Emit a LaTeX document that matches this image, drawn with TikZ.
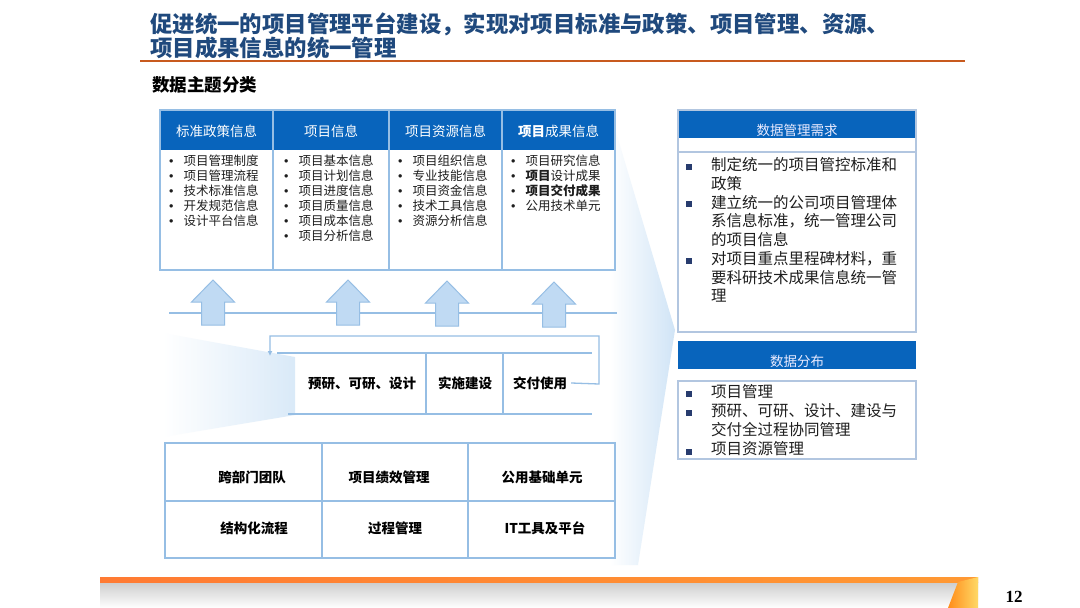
\documentclass[tikz,border=0pt]{standalone}
\usepackage{fontspec}
\setmainfont{Noto Sans CJK SC}
\newfontfamily\pnfont{Liberation Serif}
\newfontfamily\bulfont{Liberation Sans}
\usetikzlibrary{arrows.meta}
\definecolor{titleblue}{RGB}{31,73,125}
\definecolor{hdrblue}{RGB}{8,100,188}
\definecolor{linebl}{RGB}{150,190,228}
\definecolor{arrfill}{RGB}{192,218,243}
\definecolor{orline}{RGB}{200,90,30}
\definecolor{boxedge}{RGB}{178,198,224}
\definecolor{sqblue}{RGB}{40,60,110}
\definecolor{txt}{RGB}{30,30,30}
\definecolor{fanblue}{RGB}{208,228,246}
\tikzset{
  titletext/.style={anchor=west, inner sep=0pt, text=titleblue, font=\fontsize{22.4}{26}\selectfont\bfseries},
  hdrtext/.style={inner sep=0pt, text=white, font=\fontsize{13.5}{16}\selectfont},
  listtext/.style={anchor=north west, inner sep=0pt, align=left, text=txt, font=\fontsize{12.5}{15}\selectfont},
  celltext/.style={inner sep=0pt, text=black, font=\fontsize{13.5}{16}\selectfont\bfseries},
  tableline/.style={draw=linebl, line width=1.3pt},
  panelhdr/.style={inner sep=0pt, text=white!92!blue, font=\fontsize{13.5}{16}\selectfont},
  paneltext/.style={anchor=north west, inner sep=0pt, align=left, text=txt, font=\fontsize{15.5}{18.7}\selectfont},
  sqbullet/.style={fill=sqblue, minimum size=6.5pt, inner sep=0pt},
  uparrowpic/.pic={\draw[draw=linebl, fill=arrfill, line width=1pt] (-11.5,45) -- (-11.5,22) -- (-21.5,22) -- (0,0) -- (21.5,22) -- (11.5,22) -- (11.5,45) -- cycle;}
}
\newcommand{\bl}{\makebox[14.5pt][l]{{\bulfont •}}}
\begin{document}
\begin{tikzpicture}[x=1pt,y=-1pt]
\useasboundingbox (0,0) rectangle (1080,608);
\fill[white] (0,0) rectangle (1080,608);

% title
\node[titletext] (t1) at (150,24) {促进统一的项目管理平台建设，实现对项目标准与政策、项目管理、资源、};
\node[titletext] (t2) at (150,48) {项目成果信息的统一管理};
\draw[orline, line width=2.2pt] (140,61) -- (965,61);
\node[anchor=west, inner sep=0pt, font=\fontsize{17.5}{20}\selectfont\bfseries] (sub) at (152,85) {数据主题分类};

% decorative shadings
\shade[left color=white, right color=fanblue] (610,112) -- (675,330) -- (638,565) -- (610,565) -- cycle;
\shade[left color=white, right color=fanblue!80] (163,333) -- (295,357) -- (295,415) -- (163,437) -- cycle;

% top table
\fill[hdrblue] (160,110) rectangle (615,150);
\draw[tableline] (160,110) rectangle (615,270);
\foreach \xx in {273,389,502} \draw[tableline] (\xx,110) -- (\xx,270);
\node[hdrtext] (h1) at (216.5,131) {标准政策信息};
\node[hdrtext] (h2) at (331,131) {项目信息};
\node[hdrtext] (h3) at (445.5,131) {项目资源信息};
\node[hdrtext] (h4) at (558.5,131) {{\bfseries 项目}成果信息};
\node[listtext] (l1) at (169,154.5) {\bl 项目管理制度\\ \bl 项目管理流程\\ \bl 技术标准信息\\ \bl 开发规范信息\\ \bl 设计平台信息};
\node[listtext] (l2) at (284,154.5) {\bl 项目基本信息\\ \bl 项目计划信息\\ \bl 项目进度信息\\ \bl 项目质量信息\\ \bl 项目成本信息\\ \bl 项目分析信息};
\node[listtext] (l3) at (398,154.5) {\bl 项目组织信息\\ \bl 专业技能信息\\ \bl 项目资金信息\\ \bl 技术工具信息\\ \bl 资源分析信息};
\node[listtext] (l4) at (511,154.5) {\bl 项目研究信息\\ \bl {\bfseries 项目}设计成果\\ \bl {\bfseries 项目交付成果}\\ \bl 公用技术单元};

% arrows layer
\draw[draw=linebl, line width=1.2pt] (169,313) -- (617,313);
\pic at (213,280) {uparrowpic};
\pic at (348,280) {uparrowpic};
\pic at (447,281) {uparrowpic};
\pic at (554,282) {uparrowpic};

% process
\draw[tableline] (277,353) -- (592,353);
\draw[tableline] (288,414) -- (592,414);
\draw[tableline] (426,353) -- (426,414);
\draw[tableline] (503,353) -- (503,414);
\node[celltext] (p1) at (362,383) {预研、可研、设计};
\node[celltext] (p2) at (465,383) {实施建设};
\node[celltext] (p3) at (540,383) {交付使用};
\coordinate (ret) at (270,356);
\draw[draw=linebl, line width=1.3pt, -{Latex[length=5pt,width=5pt]}] ([xshift=4pt]p3.east) -- (599,384) -- (599,336) -- (270,336) -- (ret);

% bottom grid
\draw[tableline] (165,443) rectangle (615,558);
\draw[tableline] (165,501) -- (615,501);
\draw[tableline] (322,443) -- (322,558);
\draw[tableline] (468,443) -- (468,558);
\node[celltext] (g1) at (252,477) {跨部门团队};
\node[celltext] (g2) at (389,477) {项目绩效管理};
\node[celltext] (g3) at (542,477) {公用基础单元};
\node[celltext] (g4) at (254,528) {结构化流程};
\node[celltext] (g5) at (395,528) {过程管理};
\node[celltext] (g6) at (545,528) {IT工具及平台};

% right panel box 1
\fill[hdrblue] (678,110) rectangle (916,138);
\draw[draw=boxedge, line width=1.2pt] (678,110) rectangle (916,332);
\draw[draw=boxedge, line width=1.2pt] (678,152) -- (916,152);
\node[panelhdr] (r1h) at (797,130) {数据管理需求};
\node[sqbullet] (rb1) at (689,167) {};
\node[sqbullet] (rb2) at (689,204) {};
\node[sqbullet] (rb3) at (689,261) {};
\node[paneltext] (r1t) at (711,157.5) {制定统一的项目管控标准和\\ 政策\\ 建立统一的公司项目管理体\\ 系信息标准，统一管理公司\\ 的项目信息\\ 对项目重点里程碑材料，重\\ 要科研技术成果信息统一管\\ 理};

% right panel box 2
\fill[hdrblue] (678,341) rectangle (916,369);
\node[panelhdr] (r2h) at (797,361) {数据分布};
\draw[draw=boxedge, line width=1.2pt] (678,381) rectangle (916,459);
\node[sqbullet] (sb1) at (689,394) {};
\node[sqbullet] (sb2) at (689,413) {};
\node[sqbullet] (sb3) at (689,452) {};
\node[paneltext, font=\fontsize{15.5}{19}\selectfont] (r2t) at (711,384.5) {项目管理\\ 预研、可研、设计、建设与\\ 交付全过程协同管理\\ 项目资源管理};

% footer
\shade[top color=gray!40, bottom color=white] (100,582) rectangle (978,608);
\shade[left color=orange!70!red!80, right color=orange!80] (100,577) rectangle (978,582);
\shade[left color=orange!90, right color=orange!50!yellow!60] (958,582) -- (978,577) -- (978,608) -- (948,608) -- cycle;
\node[inner sep=0pt, font=\pnfont\bfseries\fontsize{17}{20}\selectfont] (pg) at (1014,597) {12};
\end{tikzpicture}
\end{document}
